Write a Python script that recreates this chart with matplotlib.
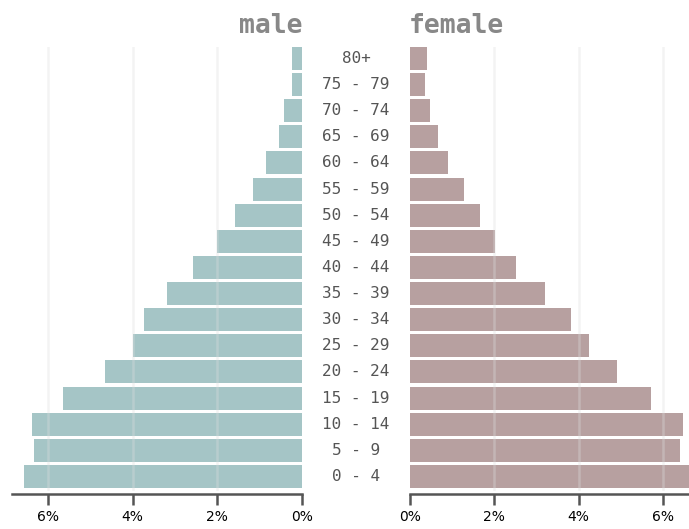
import matplotlib.pyplot as plt
import numpy as np

# Groupes d'âge (du bas vers le haut)
ages = ["0 - 4", "5 - 9", "10 - 14", "15 - 19", "20 - 24", "25 - 29", "30 - 34",
        "35 - 39", "40 - 44", "45 - 49", "50 - 54", "55 - 59", "60 - 64",
        "65 - 69", "70 - 74", "75 - 79", "80+"]

# Pourcentages
male = [6.57, 6.33, 6.38, 5.65, 4.65, 3.99, 3.73, 3.19, 2.57, 2.01, 1.58,
        1.16, 0.85, 0.54, 0.43, 0.24, 0.24]
female = [6.65, 6.41, 6.48, 5.73, 4.92, 4.24, 3.82, 3.20, 2.52, 2.02, 1.65,
          1.28, 0.91, 0.66, 0.48, 0.36, 0.40]

ticks = [0, 2, 4, 6]
tick_labels = ["0%", "2%", "4%", "6%"]

W, H = 689, 529
fig = plt.figure(figsize=(W / 100, H / 100), dpi=100)

y = np.arange(len(ages))
bas, haut = 38 / H, 444 / H
ax_m = fig.add_axes([12 / W, bas, 290 / W, haut])
ax_f = fig.add_axes([410 / W, bas, 279 / W, haut])

mono = "DejaVu Sans Mono"

for ax, vals, col, lim in [(ax_m, male, "#a5c5c6", (6.85, 0)),
                           (ax_f, female, "#b7a0a0", (0, 6.62))]:
    ax.barh(y, vals, height=0.88, color=col, zorder=2)
    ax.set_xlim(*lim)
    ax.set_ylim(-0.56, 16.44)
    for t in ticks[1:]:
        ax.axvline(t, color="#dddddd", lw=1.8, alpha=0.35, zorder=3)
    ax.set_yticks([])
    ax.set_xticks(ticks)
    ax.set_xticklabels(tick_labels, family=mono, fontsize=10.5, color="#555555")
    ax.tick_params(axis="x", length=8, width=1.8, color="#555555", pad=4)
    for s in ["top", "left", "right"]:
        ax.spines[s].set_visible(False)
    ax.spines["bottom"].set_color("#555555")
    ax.spines["bottom"].set_linewidth(1.8)
    ax.spines["bottom"].set_position(("outward", 2))

# Titres
fig.text(303 / W, 1 - 26 / H, "male", ha="right", va="center", family=mono,
         fontsize=19, fontweight="bold", color="#888888")
fig.text(409 / W, 1 - 26 / H, "female", ha="left", va="center", family=mono,
         fontsize=19, fontweight="bold", color="#888888")

# Étiquettes des âges au milieu
for i, lab in enumerate(ages):
    yy = ax_m.transData.transform((0, i))[1]
    fig.text(356 / W, yy / H, lab, ha="center", va="center",
             family=mono, fontsize=11.5, color="#555555")

fig.savefig("out.png", dpi=100)
